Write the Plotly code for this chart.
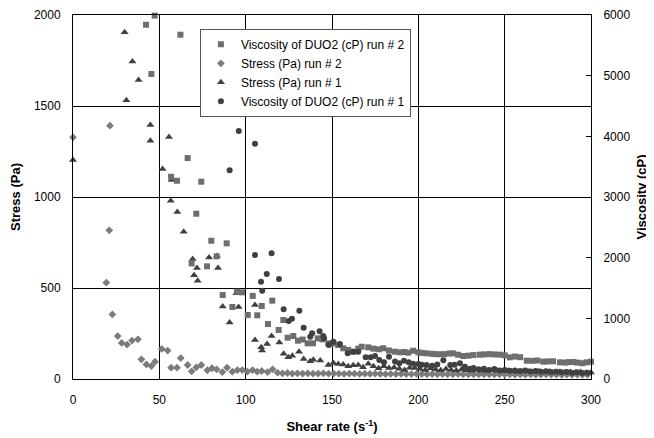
import plotly.graph_objects as go

# Stress (Pa) run # 2  (diamonds, left axis)
s2_x = [0, 19.3, 21, 21.4, 22.8, 25.9, 28.2, 31.3, 34.2, 37.6, 39.6, 42.5, 45.4, 47.5, 51.4, 54.8,
        56.8, 60.2, 62.4, 66.4, 68.7, 71.4, 74.3, 77.8, 80.5, 83.2, 86.5, 89.2, 92.3, 95.2, 98, 101,
        104, 106.7, 109.3, 112.7, 115.6, 118.5, 121.3, 124.2, 127, 130, 133, 136, 139, 142, 145, 148,
        151, 154, 157, 160, 163, 166, 169, 172, 175, 178, 181, 184, 187, 190, 193, 196, 199, 202, 205,
        208, 211, 214, 217, 220, 223, 226, 229, 232, 235, 238, 241, 244, 247, 250, 253, 256, 259, 262,
        265, 268, 271, 274, 277, 280, 283, 286, 289, 292, 295, 298]
s2_y = [1328, 529, 817, 1392, 355, 236, 198, 189, 211, 218, 108, 80, 71, 95, 165, 156,
        62, 62, 115, 77, 42, 64, 77, 48, 59, 53, 38, 62, 40, 49, 49, 40,
        49, 40, 44, 38, 53, 35, 31, 33, 30, 31, 30, 31, 29, 30, 31, 29,
        30, 29, 28, 30, 29, 28, 29, 28, 29, 28, 27, 28, 27, 28, 27, 27, 28, 27, 26,
        27, 26, 27, 26, 26, 27, 26, 25, 26, 25, 26, 25, 25, 26, 25, 25, 24, 25, 24,
        25, 24, 24, 25, 24, 24, 23, 24, 23, 24, 23, 23]

# Stress (Pa) run # 1  (triangles, left axis)
s1_x = [0, 29.9, 30.9, 34.4, 38, 44.8, 44.8, 51.9, 55.6, 56.6, 57.1, 60.4, 64.1, 69.3, 70.1, 71.8,
        72.2, 78.8, 83.4, 84, 86.7, 90.7, 94.6, 95.9, 105.4, 105.4, 109, 109.5, 112.4, 115, 119.5,
        122, 124.7, 127, 130.9, 133.6, 137.4, 139.2, 143.2, 147.9, 150.8, 153.6, 156.5, 159.4, 162.3,
        165.2, 168, 171, 174, 177, 180, 183, 186, 189, 192, 195, 198, 201, 204, 207, 210, 213, 216,
        219, 222, 225, 228, 231, 234, 237, 240, 243, 246, 249, 252, 255, 258, 261, 264, 267, 270,
        273, 276, 279, 282, 285, 288, 291, 294, 297, 300]
s1_y = [1203, 1905, 1531, 1745, 1643, 1396, 1309, 1154, 1330, 980, 1093, 918, 809, 659, 570, 610,
        540, 667, 676, 610, 399, 311, 471, 396, 407, 214, 174, 156, 192, 236, 200,
        139, 119, 128, 150, 110, 97, 106, 101, 77, 88, 82, 80, 70, 75,
        77, 64, 84, 70, 59, 70, 60, 63, 56, 50, 62, 60, 55, 50, 58, 52, 48, 55,
        50, 47, 52, 48, 45, 50, 46, 44, 48, 45, 42, 46, 43, 40, 44, 41, 40, 42,
        39, 41, 38, 40, 37, 39, 36, 38, 35, 36]

# Viscosity of DUO2 (cP) run # 2  (squares, right axis)
v2_x = [42.3, 45.4, 47.3, 56.8, 60.2, 62.2, 66.4, 68.7, 71.4, 74.3, 77.6, 80.1, 83.2, 86.7, 89, 92.3,
        95, 97.9, 101.2, 104.1, 106.7, 109.3, 112.9, 115.4, 119.1, 121.8, 124.3, 127.6, 130.3, 133,
        135.9, 139, 141.7, 144.4, 147.9, 150.8, 153.6, 156.5, 159.4, 162.3, 165.2, 167.2, 171, 174, 177,
        179.7, 183, 186.5, 189.4, 192, 194.2, 197, 200, 202, 204.8, 208, 210, 212.5, 215, 218, 220.2,
        223, 226, 229, 232, 235.7, 238, 241, 244, 247.3, 250, 253, 256, 259, 262.8, 266, 269, 272.4,
        275, 278, 282, 285, 287, 289.7, 292, 295, 297.5, 300]
v2_y = [5840, 5027, 5990, 3334, 3268, 5675, 3642, 1906, 2724, 3252, 1857, 2279, 2022, 1384, 2236, 1187,
        1439, 1428, 1055, 1370, 1050, 1203, 906, 1291, 808, 972, 681, 709, 632, 650,
        588, 588, 670, 654, 588, 588, 560, 506, 480, 450, 500, 532, 522, 500, 490,
        506, 470, 450, 440, 445, 434, 466, 440, 430, 423, 415, 410, 407, 410, 420, 423,
        400, 379, 385, 395, 401, 405, 410, 405, 401, 390, 357, 370, 360, 302, 300, 305, 286,
        290, 292, 275, 270, 278, 280, 270, 260, 275, 285]

# Viscosity of DUO2 (cP) run # 1  (circles, right axis)
v1_x = [90.7, 96, 105.4, 105.4, 108.9, 109.6, 112.2, 115, 119.3, 122, 124.9, 126.8, 131.1, 133.6, 137.4,
        138.5, 142.8, 144.9, 145.4, 148.1, 150.8, 154.6, 159.1, 162.3, 165.2, 169.5, 172.4, 174.9,
        177.4, 180.1, 183, 186.5, 189, 191.7, 194.5, 197, 200, 202, 204.8, 208, 211, 214.5, 218.5,
        221, 224.1, 227, 230, 232, 235, 238, 241, 244, 247, 250, 253, 256, 259, 262, 265, 268, 271,
        274, 277, 280, 283, 286, 289, 292, 295, 298]
v1_y = [3439, 4087, 3878, 2044, 1604, 1455, 1730, 2071, 1648, 1149, 956, 994, 1126, 846, 698,
        753, 786, 709, 671, 560, 615, 577, 423, 450, 450, 357, 357, 379,
        313, 275, 368, 290, 258, 302, 275, 250, 247, 235, 231, 220, 240, 310, 231,
        235, 258, 200, 170, 180, 160, 170, 150, 165, 140, 150, 135, 140, 130, 140, 125, 130, 120,
        128, 115, 120, 110, 115, 105, 110, 100, 105]

FONT = "Liberation Sans, Arial, sans-serif"

fig = go.Figure()
fig.add_trace(go.Scatter(x=v2_x, y=v2_y, mode="markers", name="Viscosity of DUO2 (cP) run # 2",
                         yaxis="y2", cliponaxis=False,
                         marker=dict(symbol="square", size=6, color="#6e6e6e")))
fig.add_trace(go.Scatter(x=s2_x, y=s2_y, mode="markers", name="Stress (Pa) run # 2",
                         cliponaxis=False,
                         marker=dict(symbol="diamond", size=6, color="#7c7c7c")))
fig.add_trace(go.Scatter(x=s1_x, y=s1_y, mode="markers", name="Stress (Pa) run # 1",
                         cliponaxis=False,
                         marker=dict(symbol="triangle-up", size=7, color="#404040")))
fig.add_trace(go.Scatter(x=v1_x, y=v1_y, mode="markers", name="Viscosity of DUO2 (cP) run # 1",
                         yaxis="y2", cliponaxis=False,
                         marker=dict(symbol="circle", size=6, color="#404040")))

# the page body adds an 8px margin, so the figure is sized 8px smaller each way
fig.update_layout(
    width=646, height=430,
    margin=dict(l=65, r=63, t=7, b=59),
    paper_bgcolor="white", plot_bgcolor="white",
    font=dict(family=FONT, size=12, color="black"),
    xaxis=dict(range=[0, 300], dtick=50, showgrid=True, gridcolor="black", gridwidth=1,
               showline=True, linecolor="black", linewidth=1, mirror=True, ticks="",
               zeroline=False, ticklabelstandoff=10, automargin=False,
               title=dict(text="<b>Shear rate (s<sup>-1</sup>)</b>", font=dict(size=13), standoff=15)),
    yaxis=dict(range=[0, 2000], dtick=500, showgrid=True, gridcolor="black", gridwidth=1,
               showline=True, linecolor="black", linewidth=1, ticks="", zeroline=False,
               ticklabelstandoff=9, automargin=False,
               title=dict(text="<b>Stress (Pa)</b>", font=dict(size=13), standoff=10)),
    yaxis2=dict(range=[0, 6000], dtick=1000, overlaying="y", side="right", showgrid=False,
                showline=True, linecolor="black", linewidth=1, ticks="inside", ticklen=5,
                tickcolor="black", zeroline=False, ticklabelstandoff=9, automargin=False,
                title=dict(text="<b>Viscosity (cP)</b>", font=dict(size=13), standoff=7)),
    legend=dict(x=0.245, y=0.962, xanchor="left", yanchor="top", bgcolor="white",
                bordercolor="#555555", borderwidth=1, font=dict(size=12),
                tracegroupgap=0, itemwidth=30),
    showlegend=True,
)

fig.write_html("out.html")
